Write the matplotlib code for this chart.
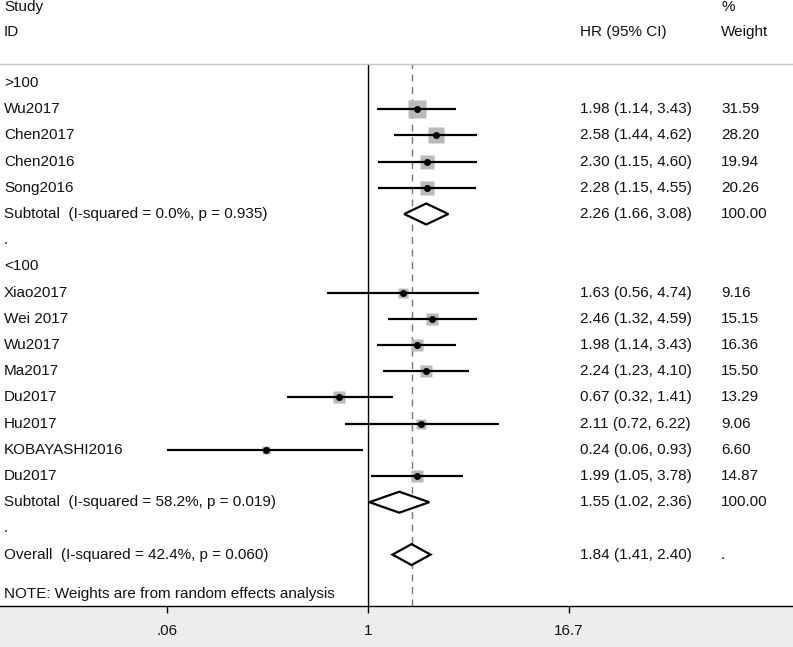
import numpy as np
import matplotlib
matplotlib.use('Agg')
import matplotlib.pyplot as plt
from matplotlib.patches import Polygon, Rectangle

plt.rcParams['font.family'] = ['Liberation Sans', 'DejaVu Sans']

# subgroup >100
g1_names = ['Wu2017', 'Chen2017', 'Chen2016', 'Song2016']
g1_hr = [1.98, 2.58, 2.30, 2.28]
g1_lo = [1.14, 1.44, 1.15, 1.15]
g1_hi = [3.43, 4.62, 4.60, 4.55]
g1_w = [31.59, 28.20, 19.94, 20.26]
g1_sub = (2.26, 1.66, 3.08)
g1_het = (0.0, 0.935)

# subgroup <100
g2_names = ['Xiao2017', 'Wei 2017', 'Wu2017', 'Ma2017', 'Du2017', 'Hu2017', 'KOBAYASHI2016', 'Du2017']
g2_hr = [1.63, 2.46, 1.98, 2.24, 0.67, 2.11, 0.24, 1.99]
g2_lo = [0.56, 1.32, 1.14, 1.23, 0.32, 0.72, 0.06, 1.05]
g2_hi = [4.74, 4.59, 3.43, 4.10, 1.41, 6.22, 0.93, 3.78]
g2_w = [9.16, 15.15, 16.36, 15.50, 13.29, 9.06, 6.60, 14.87]
g2_sub = (1.55, 1.02, 2.36)
g2_het = (58.2, 0.019)

overall = (1.84, 1.41, 2.40)
overall_het = (42.4, 0.060)

tick_vals = [0.06, 1, 16.7]
tick_labels = ['.06', '1', '16.7']

W, H = 793, 647
fig = plt.figure(figsize=(W / 100, H / 100), dpi=100)
fig.patch.set_facecolor('white')

# grey band under the axis
fig.add_artist(Rectangle((0, 0), 1, 41 / H, transform=fig.transFigure,
                         facecolor='#ededed', edgecolor='none', zorder=0))

ax = fig.add_axes([0, 41 / H, 1, (606 - 64) / H])
ax.set_facecolor('white')

# x: pixel = 368 + 71.4 * ln(v)
px_per = 71.4
x0 = 368
ax.set_xscale('log')
ax.set_xlim(np.exp(-x0 / px_per), np.exp((W - x0) / px_per))

row_h = 26.2
ax.set_ylim((606 - 83) / row_h, -(83 - 64) / row_h)

FS = 11
TC = '#111111'
trans = ax.get_yaxis_transform()
col_hr = 580 / W
col_w = 721 / W


def txt(x, y, s):
    ax.text(x, y, s, transform=trans, fontsize=FS, va='center', color=TC)


def diamond(est, lo, hi, y, hh=0.4):
    pts = [(lo, y), (est, y - hh), (hi, y), (est, y + hh)]
    ax.add_patch(Polygon(pts, closed=True, facecolor='white', edgecolor='black',
                         lw=1.6, zorder=4))


def study_row(y, name, hr, lo, hi, w):
    ax.plot([lo, hi], [y, y], color='black', lw=1.6, zorder=3, solid_capstyle='butt')
    side = 3.1 * np.sqrt(w)
    ax.plot([hr], [y], marker='s', ms=side * 0.72, color='#b9b9b9', mec='none', zorder=2)
    ax.plot([hr], [y], marker='o', ms=4, color='black', zorder=4)
    txt(4 / W, y, name)
    txt(col_hr, y, f'{hr:.2f} ({lo:.2f}, {hi:.2f})')
    txt(col_w, y, f'{w:.2f}')


def summary_row(y, label, est, lo, hi, het, wtxt):
    diamond(est, lo, hi, y)
    txt(4 / W, y, f'{label}  (I-squared = {het[0]:.1f}%, p = {het[1]:.3f})')
    txt(col_hr, y, f'{est:.2f} ({lo:.2f}, {hi:.2f})')
    txt(col_w, y, wtxt)


row = 0
txt(4 / W, row, '>100')
row += 1
for i in range(len(g1_names)):
    study_row(row, g1_names[i], g1_hr[i], g1_lo[i], g1_hi[i], g1_w[i])
    row += 1
summary_row(row, 'Subtotal', *g1_sub, g1_het, '100.00')
row += 1
txt(4 / W, row, '.')
row += 1
txt(4 / W, row, '<100')
row += 1
for i in range(len(g2_names)):
    study_row(row, g2_names[i], g2_hr[i], g2_lo[i], g2_hi[i], g2_w[i])
    row += 1
summary_row(row, 'Subtotal', *g2_sub, g2_het, '100.00')
row += 1
txt(4 / W, row, '.')
row += 1
summary_row(row, 'Overall', *overall, overall_het, '.')
row += 1.5
txt(4 / W, row, 'NOTE: Weights are from random effects analysis')

# null line and overall effect line
ax.axvline(1, color='black', lw=1.0, zorder=1)
ax.axvline(overall[0], color='#777777', lw=1.0, ls=(0, (5, 4)), zorder=1)

# spines / ticks
for s in ['left', 'right']:
    ax.spines[s].set_visible(False)
ax.spines['top'].set_color('#c4c4c4')
ax.spines['top'].set_linewidth(1.0)
ax.spines['bottom'].set_color('black')
ax.spines['bottom'].set_linewidth(1.0)
ax.set_yticks([])
ax.set_xticks(tick_vals)
ax.set_xticklabels(tick_labels)
ax.xaxis.set_minor_locator(matplotlib.ticker.NullLocator())
ax.tick_params(axis='x', direction='out', length=5, width=1, color='black',
               labelsize=FS, labelcolor=TC, pad=8)

# column headers
fig.text(4 / W, 1 - 7 / H, 'Study', fontsize=FS, va='center', color=TC)
fig.text(4 / W, 1 - 32 / H, 'ID', fontsize=FS, va='center', color=TC)
fig.text(col_hr, 1 - 32 / H, 'HR (95% CI)', fontsize=FS, va='center', color=TC)
fig.text(col_w, 1 - 7 / H, '%', fontsize=FS, va='center', color=TC)
fig.text(col_w, 1 - 32 / H, 'Weight', fontsize=FS, va='center', color=TC)

fig.savefig('out.png', dpi=100)
